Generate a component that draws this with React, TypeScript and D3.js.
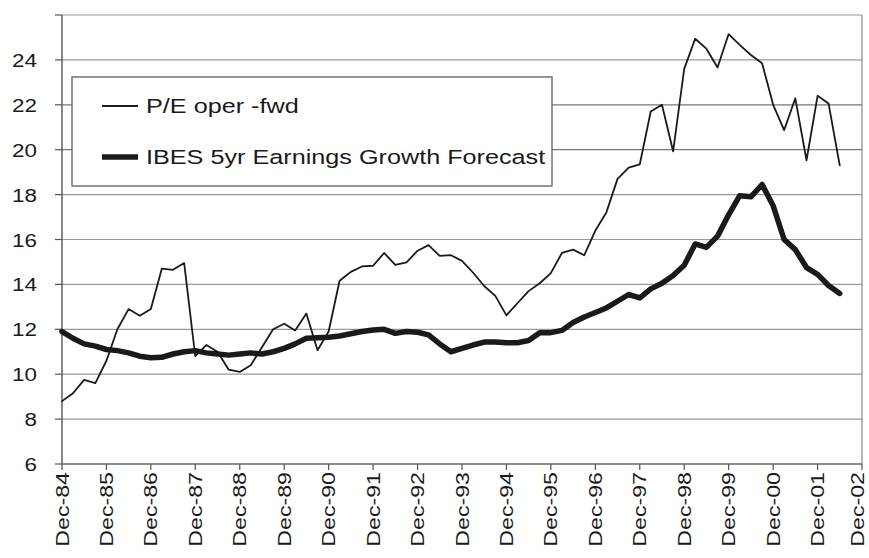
import { useEffect, useRef } from 'react';
import * as d3 from 'd3';

const WIDTH = 869;
const HEIGHT = 558;

// quarterly observations, first one is Dec-84
const PE_OPER_FWD = [
  8.8, 9.15, 9.75, 9.6, 10.6, 12.0, 12.9, 12.6, 12.9, 14.7, 14.65, 14.95,
  10.8, 11.3, 11.0, 10.2, 10.1, 10.4, 11.2, 12.0, 12.25, 11.95, 12.7, 11.07,
  11.9, 14.16, 14.56, 14.8, 14.83, 15.4, 14.87, 14.98, 15.5, 15.75, 15.27, 15.3,
  15.05, 14.53, 13.93, 13.49, 12.62, 13.16, 13.7, 14.05, 14.5, 15.4, 15.55, 15.3,
  16.4, 17.2, 18.7, 19.2, 19.35, 21.7, 22.0, 19.93, 23.6, 24.94, 24.5, 23.66,
  25.15, 24.67, 24.22, 23.85, 22.0, 20.87, 22.29, 19.53, 22.4, 22.06, 19.3,
];

const IBES_GROWTH = [
  11.9, 11.6, 11.35, 11.25, 11.1, 11.05, 10.95, 10.8, 10.73, 10.75, 10.9, 11.0,
  11.05, 10.95, 10.9, 10.85, 10.9, 10.95, 10.9, 11.0, 11.15, 11.35, 11.6, 11.62,
  11.65, 11.7, 11.8, 11.9, 11.97, 12.0, 11.82, 11.9, 11.87, 11.75, 11.35, 11.0,
  11.15, 11.3, 11.43, 11.43, 11.4, 11.4, 11.5, 11.85, 11.85, 11.95, 12.3, 12.55,
  12.75, 12.95, 13.25, 13.55, 13.4, 13.8, 14.05, 14.4, 14.85, 15.8, 15.65, 16.15,
  17.1, 17.95, 17.9, 18.45, 17.5, 16.0, 15.55, 14.75, 14.45, 13.95, 13.6,
];

const Y_TICKS = [6, 8, 10, 12, 14, 16, 18, 20, 22, 24];
const Y_GRID = [8, 10, 12, 14, 16, 18, 20, 22, 24, 26];
const TICK_YEARS = d3.range(1984, 2003);

const SERIES = [
  { name: 'P/E oper -fwd', values: PE_OPER_FWD, width: 1.8 },
  { name: 'IBES 5yr Earnings Growth Forecast', values: IBES_GROWTH, width: 5.5 },
];

const quarterDate = (i: number) => new Date(1984, 11 + 3 * i, 1);

export default function App() {
  const svgRef = useRef<SVGSVGElement | null>(null);

  useEffect(() => {
    const svg = d3.select(svgRef.current);
    if (!svg.node()) return;
    svg.selectAll('*').remove();

    const x = d3
      .scaleTime()
      .domain([new Date(1984, 11, 1), new Date(2002, 11, 1)])
      .range([62, 862]);
    const y = d3.scaleLinear().domain([6, 26]).range([464, 15]);
    const fmt = d3.timeFormat('%b-%y');
    const font = '"Liberation Sans", Arial, sans-serif';
    const ink = '#1a1a1a';

    // gridlines
    svg
      .append('g')
      .selectAll('line')
      .data(Y_GRID)
      .enter()
      .append('line')
      .attr('x1', 62)
      .attr('x2', 862)
      .attr('y1', (d) => y(d))
      .attr('y2', (d) => y(d))
      .attr('stroke', (d) => (d === 22 || d === 20 ? '#777' : '#9a9a9a'))
      .attr('stroke-width', 1.2);

    // frame
    svg
      .append('line')
      .attr('x1', 862)
      .attr('x2', 862)
      .attr('y1', y(26))
      .attr('y2', y(6))
      .attr('stroke', '#8a8a8a')
      .attr('stroke-width', 1.2);
    svg
      .append('line')
      .attr('x1', 62)
      .attr('x2', 862)
      .attr('y1', y(6))
      .attr('y2', y(6))
      .attr('stroke', '#666')
      .attr('stroke-width', 1.4);
    svg
      .append('line')
      .attr('x1', 62)
      .attr('x2', 62)
      .attr('y1', y(26))
      .attr('y2', y(6))
      .attr('stroke', '#555')
      .attr('stroke-width', 1.4);

    // y ticks + labels
    const yAxis = svg.append('g');
    yAxis
      .selectAll('line')
      .data(Y_GRID.concat([6]))
      .enter()
      .append('line')
      .attr('x1', 55)
      .attr('x2', 62)
      .attr('y1', (d) => y(d))
      .attr('y2', (d) => y(d))
      .attr('stroke', '#555')
      .attr('stroke-width', 1.2);
    yAxis
      .selectAll('g.lbl')
      .data(Y_TICKS)
      .enter()
      .append('g')
      .attr('class', 'lbl')
      .attr('transform', (d) => `translate(37,${y(d) + 7}) scale(1.18,1)`)
      .append('text')
      .attr('text-anchor', 'end')
      .attr('font-family', font)
      .attr('font-size', 19)
      .attr('fill', ink)
      .text((d) => d);

    // x ticks + labels (last one pulled in a bit so it stays on the page)
    const ticks = TICK_YEARS.map((yr) => new Date(yr, 11, 1));
    const xAxis = svg.append('g');
    xAxis
      .selectAll('line')
      .data(ticks)
      .enter()
      .append('line')
      .attr('x1', (d) => x(d))
      .attr('x2', (d) => x(d))
      .attr('y1', y(6))
      .attr('y2', y(6) + 6)
      .attr('stroke', '#555')
      .attr('stroke-width', 1.2);
    xAxis
      .selectAll('g.lbl')
      .data(ticks)
      .enter()
      .append('g')
      .attr('class', 'lbl')
      .attr('transform', (d) => `translate(${Math.min(x(d) + 6.5, 864)},472) rotate(-90) scale(1.22,1)`)
      .append('text')
      .attr('text-anchor', 'end')
      .attr('font-family', font)
      .attr('font-size', 19)
      .attr('fill', ink)
      .text((d) => fmt(d));

    // series
    const line = d3
      .line<number>()
      .x((_, i) => x(quarterDate(i)))
      .y((d) => y(d));
    svg
      .append('g')
      .selectAll('path')
      .data(SERIES)
      .enter()
      .append('path')
      .attr('d', (d) => line(d.values))
      .attr('fill', 'none')
      .attr('stroke', ink)
      .attr('stroke-width', (d) => d.width)
      .attr('stroke-linejoin', 'round')
      .attr('stroke-linecap', 'round');

    // legend
    const legend = svg.append('g').attr('transform', 'translate(72,77)');
    legend
      .append('rect')
      .attr('width', 480)
      .attr('height', 109)
      .attr('fill', '#fff')
      .attr('stroke', '#6a6a6a')
      .attr('stroke-width', 1.4);
    const items = legend
      .selectAll('g.item')
      .data(SERIES)
      .enter()
      .append('g')
      .attr('class', 'item')
      .attr('transform', (_, i) => `translate(0,${29 + i * 51})`);
    items
      .append('line')
      .attr('x1', 30)
      .attr('x2', 66)
      .attr('stroke', ink)
      .attr('stroke-width', (d) => d.width);
    items
      .append('g')
      .attr('transform', 'translate(74,7) scale(1.23,1)')
      .append('text')
      .attr('font-family', font)
      .attr('font-size', 20.5)
      .attr('fill', ink)
      .text((d) => d.name);
  }, []);

  return (
    <div style={{ position: 'fixed', left: 0, top: 0, background: '#fff' }}>
      <svg ref={svgRef} width={WIDTH} height={HEIGHT} style={{ display: 'block' }} />
    </div>
  );
}
